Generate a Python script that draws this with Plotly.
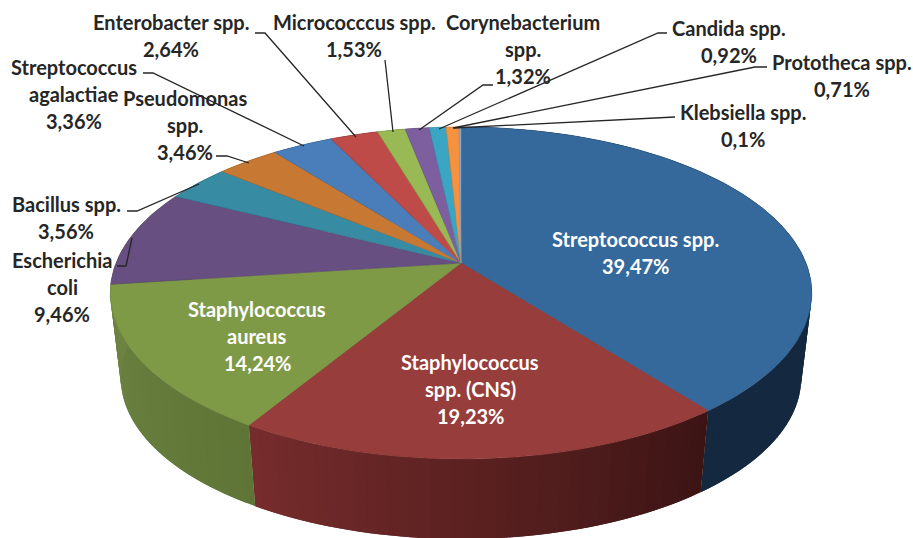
import math
import numpy as np
import plotly.graph_objects as go

# ---- data -------------------------------------------------------------
species = ["Streptococcus spp.", "Staphylococcus spp. (CNS)", "Staphylococcus aureus",
           "Escherichia coli", "Bacillus spp.", "Pseudomonas spp.", "Streptococcus agalactiae",
           "Enterobacter spp.", "Micrococcus spp.", "Corynebacterium spp.", "Candida spp.",
           "Prototheca spp.", "Klebsiella spp."]
values = [39.47, 19.23, 14.24, 9.46, 3.56, 3.46, 3.36, 2.64, 1.53, 1.32, 0.92, 0.71, 0.10]
top_colors = ["#36699b", "#973d3b", "#7f9a46", "#674f82", "#378ba3", "#c77933", "#4a7ebb",
              "#be4b48", "#98b954", "#7d5fa0", "#3ba6c4", "#f59240", "#8fb0d8"]
wall_from = ["#14283f", "#3c1414", "#5f7537", "#6c8342", "#265f70", "#885222", "#325680",
             "#823331", "#687e39", "#55416d", "#287185", "#a7632b", "#325680"]
wall_to = ["#14283f", "#772c2c", "#6c8342", "#6c8342", "#265f70", "#885222", "#325680",
           "#823331", "#687e39", "#55416d", "#287185", "#a7632b", "#325680"]

# label text: lines, centre x, centre y of each line, colour
labels = [
    (["Streptococcus spp.", "39,47%"], 635, 239, "white"),
    (["Staphylococcus", "spp. (CNS)", "19,23%"], 470, 362, "white"),
    (["Staphylococcus", "aureus", "14,24%"], 257, 309, "white"),
    (["Escherichia", "coli", "9,46%"], 62, 260, "#262626"),
    (["Bacillus spp.", "3,56%"], 66, 204, "#262626"),
    (["Pseudomonas", "spp.", "3,46%"], 185, 98, "#262626"),
    (["Streptococcus", "agalactiae", "3,36%"], 74, 67, "#262626"),
    (["Enterobacter spp.", "2,64%"], 171, 22, "#262626"),
    (["Micrococccus spp.", "1,53%"], 354, 22, "#262626"),
    (["Corynebacterium", "spp.", "1,32%"], 523, 22, "#262626"),
    (["Candida spp.", "0,92%"], 729, 28, "#262626"),
    (["Prototheca spp.", "0,71%"], 842, 62, "#262626"),
    (["Klebsiella spp.", "0,1%"], 743, 112, "#262626"),
]
leaders = [
    [(255, 33), (265, 33), (356, 137)],
    [(385, 60), (393, 132)],
    [(493, 85), (483, 85), (419, 130)],
    [(667, 33), (658, 33), (439, 129)],
    [(767, 67), (755, 67), (453, 128)],
    [(675, 117), (454, 128)],
    [(143, 73), (153, 73), (304, 146)],
    [(216, 156), (227, 156), (249, 163)],
    [(127, 211), (137, 211), (199, 184)],
    [(117, 266), (126, 266), (132, 238)],
]

# ---- pie projection (perspective tilt of a disc), in page pixels --------
APEX = (461.0, 263.0)
A, B, K = 345.0, 160.6, 0.1807
ELL_CY = 293.0
BOTTOM_SCALE, BOTTOM_SHIFT = 0.97, 85.0
BAND_DEG = 1.5


def top_pt(t):
    u, v = math.sin(t), math.cos(t)
    w = 1 + K * v
    return APEX[0] + A * u / w, APEX[1] - B * v / w


def bot_pt(t):
    x, y = top_pt(t)
    return APEX[0] + BOTTOM_SCALE * (x - APEX[0]), ELL_CY + BOTTOM_SHIFT + BOTTOM_SCALE * (y - ELL_CY)


def mix(c1, c2, f):
    a = [int(c1[i:i + 2], 16) for i in (1, 3, 5)]
    b = [int(c2[i:i + 2], 16) for i in (1, 3, 5)]
    return "rgb(%d,%d,%d)" % tuple(round(p + (q - p) * f) for p, q in zip(a, b))


fig = go.Figure()
edges = np.cumsum([0.0] + values) / sum(values) * 2 * math.pi

# side wall, drawn first so that the top face hides its back half;
# each band overlaps the next one, which paints over it, so no seams show
for i in range(len(values)):
    t0, t1 = edges[i], edges[i + 1]
    bands = max(1, int(math.degrees(t1 - t0) / BAND_DEG))
    step = (t1 - t0) / bands
    for b in range(bands):
        a0 = t0 + step * b
        a1 = min(t1, a0 + 2 * step)
        up = [top_pt(a0), top_pt((a0 + a1) / 2), top_pt(a1)]
        lo = [bot_pt(a1), bot_pt((a0 + a1) / 2), bot_pt(a0)]
        pts = up + lo + up[:1]
        col = mix(wall_from[i], wall_to[i], (b + 0.5) / bands)
        fig.add_trace(go.Scatter(x=[p[0] for p in pts], y=[p[1] for p in pts], mode="lines",
                                 fill="toself", fillcolor=col, line=dict(width=0),
                                 hoverinfo="skip", showlegend=False))

# top face
for i in range(len(values)):
    ts = np.linspace(edges[i], edges[i + 1], max(3, int(math.degrees(edges[i + 1] - edges[i]))))
    arc = [top_pt(t) for t in ts]
    pts = [APEX] + arc + [APEX]
    fig.add_trace(go.Scatter(x=[p[0] for p in pts], y=[p[1] for p in pts], mode="lines",
                             fill="toself", fillcolor=top_colors[i],
                             line=dict(color=mix(top_colors[i], "#000000", 0.12), width=0.6),
                             name=species[i], hoverinfo="skip", showlegend=False))

# leader lines
for path in leaders:
    fig.add_trace(go.Scatter(x=[p[0] for p in path], y=[p[1] for p in path], mode="lines",
                             line=dict(color="#262626", width=1.3), hoverinfo="skip", showlegend=False))

# labels, one annotation per line for the source's line spacing
LINE_STEP = 26.8
annotations = []
for lines, cx, cy, color in labels:
    for n, text in enumerate(lines):
        annotations.append(dict(x=cx, y=cy + n * LINE_STEP, text="<b>%s</b>" % text, showarrow=False,
                                xref="x", yref="y", xanchor="center", yanchor="middle",
                                font=dict(family="Lato", size=20, color=color)))

fig.update_layout(
    width=913, height=538, margin=dict(l=0, r=0, t=0, b=0),
    paper_bgcolor="white", plot_bgcolor="white", showlegend=False,
    xaxis=dict(range=[0, 913], visible=False, fixedrange=True),
    yaxis=dict(range=[538, 0], visible=False, fixedrange=True),
    annotations=annotations,
)
fig.write_html("out.html", config=dict(displayModeBar=False),
               post_script="document.body.style.margin='0';")
